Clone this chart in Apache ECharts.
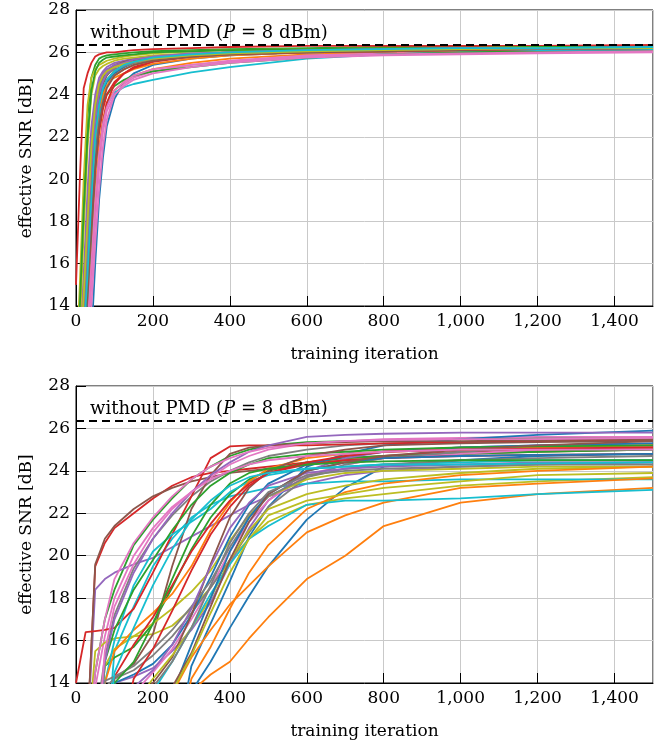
<!DOCTYPE html>
<html><head><meta charset="utf-8">
<script src="https://cdn.jsdelivr.net/npm/echarts@6/dist/echarts.min.js"></script>
<style>html,body{margin:0;padding:0;background:#fff}#c{width:668px;height:745px}</style>
</head><body><div id="c"></div>
<script>
// ---------- data ----------
const iterTop = [0,10,20,30,40,50,60,70,80,100,125,150,200,300,400,600,800,1000,1200,1500];
const runsTop = [
[8,9,10,11,12.5,16,19,21,22.5,23.8,24.6,25.0,25.4,25.7,25.85,26.0,26.05,26.1,26.15,26.2],
[9,10,11,13,16,19.5,21.5,22.8,23.6,24.2,24.6,24.9,25.2,25.5,25.7,25.9,26.0,26.05,26.1,26.15],
[12,14,19,23,24.8,25.4,25.7,25.8,25.85,25.9,25.95,26.0,26.05,26.1,26.15,26.2,26.25,26.25,26.3,26.3],
[15,20,24.3,25.0,25.5,25.8,25.9,25.95,26.0,26.0,26.05,26.1,26.15,26.2,26.25,26.3,26.3,26.3,26.3,26.35],
[10,12,15.5,19.5,22.5,24.0,24.8,25.1,25.3,25.5,25.6,25.7,25.8,25.9,26.0,26.05,26.1,26.15,26.15,26.2],
[9,11,13.5,17.5,21,23.2,24.3,24.8,25.1,25.4,25.55,25.65,25.8,25.9,26.0,26.05,26.1,26.1,26.15,26.2],
[8,9,10.5,12,14,17,19.5,21.5,22.8,24.0,24.5,24.8,25.1,25.4,25.6,25.85,25.95,26.0,26.05,26.1],
[10,11.5,14.5,18.5,21.5,23.5,24.4,24.9,25.1,25.3,25.45,25.55,25.7,25.85,25.95,26.05,26.1,26.1,26.15,26.2],
[11,15,20,23.5,24.8,25.2,25.4,25.5,25.6,25.7,25.8,25.85,25.95,26.05,26.1,26.15,26.2,26.2,26.25,26.25],
[8,9.5,11,13,15.5,18.5,21,22.6,23.5,24.1,24.35,24.5,24.7,25.05,25.3,25.7,25.9,26.0,26.05,26.1],
[9,10.5,12.5,15.5,19,21.8,23.3,24.2,24.7,25.1,25.4,25.55,25.75,25.9,26.0,26.1,26.15,26.2,26.2,26.25],
[9,11,13.5,17,20.5,22.8,24.0,24.4,24.6,24.8,25.0,25.2,25.45,25.7,25.85,26.0,26.05,26.1,26.1,26.15],
[8.5,10,12,14.5,17.5,20.5,22.5,23.5,24.0,24.4,24.7,24.9,25.1,25.3,25.5,25.75,25.9,26.0,26.05,26.1],
[8.5,9.5,11,13,15.5,18.5,21,22.6,23.6,24.5,25.0,25.3,25.6,25.85,25.95,26.05,26.1,26.15,26.2,26.2],
[10,12,15,18.5,21.8,23.8,24.6,25.0,25.2,25.4,25.5,25.6,25.7,25.8,25.9,26.0,26.05,26.1,26.1,26.15],
[9,10.5,13,16.5,20,22.5,23.8,24.5,24.9,25.3,25.5,25.6,25.75,25.9,26.0,26.1,26.1,26.15,26.2,26.2],
[8.5,9.5,11,13,16,19,21.2,22.6,23.4,24.2,24.6,24.9,25.2,25.4,25.55,25.8,25.9,25.95,26.0,26.05],
[9.5,11,14,17.5,21,23,24.2,24.7,24.95,25.2,25.35,25.5,25.65,25.8,25.9,26.0,26.05,26.1,26.15,26.2],
[10,13,17.5,21.5,24,24.9,25.2,25.35,25.45,25.6,25.7,25.75,25.85,25.95,26.0,26.1,26.15,26.15,26.2,26.2],
[9,10,12,14.5,18,21,22.8,23.8,24.4,24.9,25.2,25.4,25.6,25.8,25.9,26.0,26.05,26.1,26.1,26.15],
[8.5,10,12,15,18.5,21.5,23.2,24.1,24.6,25.0,25.3,25.5,25.7,25.85,25.95,26.05,26.1,26.15,26.2,26.25],
[9,10.5,12.5,15.5,19,21.8,23.3,24.0,24.4,24.9,25.2,25.4,25.6,25.8,25.9,26.0,26.05,26.1,26.15,26.2],
[11,14,18.5,22,24.2,25.1,25.5,25.65,25.75,25.8,25.85,25.9,26.0,26.05,26.1,26.15,26.2,26.2,26.25,26.25],
[9,10.5,12.5,15,18,20.5,22.2,23.3,24.0,24.6,25.0,25.25,25.55,25.8,25.9,26.0,26.05,26.1,26.15,26.2],
[9.5,11,13.5,17,20.5,22.8,24.0,24.6,25.0,25.3,25.5,25.65,25.8,25.95,26.0,26.1,26.15,26.2,26.2,26.25],
[9,10,12,14.5,17.5,20.5,22.5,23.6,24.3,24.9,25.2,25.4,25.6,25.8,25.9,26.0,26.05,26.1,26.15,26.2],
[8.5,9.5,10.5,12.5,15,18,20.5,22.2,23.2,24.0,24.4,24.7,25.0,25.3,25.5,25.75,25.85,25.9,25.95,26.0],
[9,10.5,13,16,19.5,22,23.5,24.3,24.7,25.1,25.35,25.5,25.7,25.85,25.95,26.05,26.1,26.15,26.15,26.2],
[9.5,11.5,14.5,18,21.5,23.5,24.5,24.9,25.1,25.3,25.45,25.55,25.7,25.85,25.95,26.05,26.1,26.15,26.2,26.2],
[9,10.5,12.5,15.5,19,22,23.5,24.3,24.7,25.1,25.4,25.55,25.75,25.9,26.0,26.1,26.15,26.2,26.2,26.25]
];
const iterBottom = [0,25,50,75,100,150,200,250,300,350,400,450,500,600,700,800,1000,1200,1500];
const runsBottom = [
[10,10,10,10,10,10,10,10,13.6,15.0,16.6,18.1,19.5,21.7,23.2,24.2,24.5,24.7,24.8],
[10,10,10,10,10,10,10,10,13.6,14.4,15.0,16.1,17.1,18.9,20.0,21.4,22.5,22.9,23.2],
[10,10,14.5,17.0,18.4,20.5,21.7,22.7,23.6,24.2,24.7,25.0,25.2,25.35,25.4,25.45,25.5,25.55,25.6],
[10,10,19.5,20.6,21.3,22.0,22.7,23.3,23.7,23.9,24.0,24.1,24.2,24.4,24.6,24.7,24.9,25.0,25.1],
[10,10,18.4,18.9,19.2,19.6,19.9,20.4,20.9,21.4,21.9,22.4,22.8,23.4,23.8,24.0,24.2,24.3,24.4],
[10,10,19.6,20.8,21.4,22.2,22.8,23.2,23.5,23.7,23.9,24.0,24.1,24.3,24.5,24.6,24.8,24.9,25.0],
[10,10,13.8,16.2,18.0,20.0,21.3,22.3,23.0,23.7,24.3,24.7,25.0,25.3,25.4,25.5,25.55,25.6,25.6],
[10,10,12,15.2,17.2,19.4,20.8,21.9,22.8,23.5,24.0,24.4,24.7,25.0,25.2,25.3,25.35,25.4,25.45],
[10,10,15.5,15.9,16.1,16.2,16.3,16.7,17.5,18.5,19.8,20.8,21.6,22.4,22.7,22.9,23.3,23.5,23.7],
[10,10,10,10,15.5,17.6,19.5,20.8,21.8,22.4,22.8,23.0,23.2,23.4,23.5,23.5,23.6,23.6,23.6],
[10,10,10,10,10,10,10,10,14.8,16.8,18.8,20.9,22.3,24.2,24.8,25.2,25.5,25.7,25.9],
[10,10,10,10,10,10,10,13.5,15.2,16.5,17.7,18.6,19.5,21.1,21.9,22.5,23.2,23.4,23.65],
[10,10,10,14.8,15.2,15.7,16.8,18.5,20.3,21.8,22.9,23.6,24.0,24.4,24.6,24.7,24.8,24.9,25.0],
[14,16.4,16.45,16.5,16.6,17.5,19.2,21.0,22.8,24.6,25.15,25.2,25.2,25.2,25.25,25.3,25.35,25.4,25.4],
[10,10,10,10,14.0,14.3,14.7,15.5,16.5,17.8,19.6,21.3,22.6,24.0,24.6,24.9,25.1,25.2,25.3],
[10,10,10,10,14.2,14.9,16.3,19.5,22.2,23.8,24.8,25.1,25.2,25.3,25.35,25.4,25.4,25.45,25.5],
[10,10,10,10,10,13.5,14.5,15.6,17.0,18.5,20.2,21.6,22.6,23.8,24.3,24.6,24.8,25.0,25.1],
[10,10,10,13.8,14.2,14.6,15.3,16.2,17.3,18.5,19.8,21.1,22.3,23.7,24.3,24.6,24.9,25.1,25.2],
[10,10,10,14.8,15.6,16.2,16.8,17.5,18.3,19.3,20.7,21.9,22.8,23.6,23.9,24.0,24.1,24.2,24.2],
[10,10,10,14.0,16.0,18.6,20.2,21.0,21.6,22.2,23.0,23.5,23.8,24.1,24.2,24.3,24.4,24.5,24.5],
[10,10,10,10,14.0,14.4,14.9,15.8,17.2,19.0,20.9,22.4,23.4,24.3,24.7,24.9,25.1,25.2,25.3],
[10,10,10,14.0,15.5,16.5,17.3,18.2,19.5,21.2,22.5,23.5,24.1,24.6,24.8,24.9,25.0,25.1,25.2],
[10,10,10,15.0,16.5,18.4,19.8,21.2,22.4,23.3,23.9,24.3,24.6,24.8,24.9,25.0,25.1,25.15,25.2],
[10,10,10,10,14.3,15.8,17.1,18.6,20.2,21.5,22.6,23.4,23.9,24.3,24.5,24.6,24.7,24.75,24.8],
[10,10,10,15.0,17.0,19.2,20.8,22.0,23.0,23.8,24.4,24.9,25.2,25.6,25.7,25.75,25.8,25.8,25.8],
[10,10,10,10,10,13.2,14.0,15.2,17.2,19.6,21.8,23.2,24.0,24.7,25.0,25.2,25.3,25.35,25.4],
[10,10,14.5,17.0,18.9,20.6,21.8,22.8,23.6,24.2,24.6,24.9,25.1,25.3,25.4,25.45,25.5,25.5,25.55],
[10,10,10,14.1,14.3,14.8,15.6,16.5,17.6,18.8,20.4,21.8,22.8,23.7,24.1,24.3,24.5,24.6,24.7],
[10,10,10,10,10,13.0,14.2,15.3,16.6,18.0,19.8,21.2,22.2,22.9,23.3,23.6,23.9,24.1,24.2],
[10,10,10,10,10,10,13.6,15.0,16.6,18.2,19.6,20.8,21.4,22.4,22.6,22.6,22.7,22.9,23.1],
[10,10,10,10,10,10,10,13.5,15.8,18.0,20.2,21.8,22.9,24.0,24.4,24.6,24.7,24.75,24.8],
[10,10,10,10,10,10,10,10,14.2,15.7,17.5,19.2,20.5,22.2,23.0,23.4,23.8,24.0,24.2],
[10,10,10,10,14.0,15.0,16.8,18.9,20.9,22.4,23.4,23.9,24.1,24.3,24.4,24.45,24.5,24.5,24.5],
[10,10,10,10,10,14.2,15.6,17.4,19.3,21.0,22.3,23.3,23.9,24.4,24.7,24.9,25.0,25.05,25.1],
[10,10,10,10,10,13.8,14.6,15.8,17.5,19.5,21.3,22.5,23.3,23.9,24.1,24.2,24.3,24.4,24.4],
[10,10,10,10,10,10,10,13.8,15.4,17.6,19.8,21.6,22.9,24.0,24.4,24.7,25.0,25.2,25.4],
[10,10,10,15.5,17.6,19.6,21.1,22.2,23.0,23.6,24.0,24.3,24.5,24.7,24.8,24.9,25.0,25.0,25.0],
[10,10,10,10,10,10,13.8,15.0,16.6,18.6,20.6,22.0,23.0,23.8,24.0,24.1,24.2,24.3,24.3],
[10,10,10,10,10,10,10,13.6,15.3,17.3,19.2,20.8,21.9,22.6,22.9,23.2,23.5,23.8,23.9],
[10,10,10,10,14.5,16.6,18.6,20.3,21.7,22.6,23.3,23.7,23.9,24.1,24.2,24.3,24.3,24.35,24.4]
];
const refSNR = 26.37;
const refLabel = ['without PMD (', 'P', ' = 8 dBm)'];
const xTicks = {min: 0, max: 1500, step: 200};
const yTicks = {min: 14, max: 28, step: 2};
const xTitle = 'training iteration';
const yTitle = 'effective SNR [dB]';

// ---------- chart ----------
const palette = ['#1f77b4','#ff7f0e','#2ca02c','#d62728','#9467bd','#8c564b','#e377c2','#7f7f7f','#bcbd22','#17becf'];
const FONT = 'DejaVu Serif';
const grids = [
  {left: 76, top: 10, width: 577, height: 296},
  {left: 76, top: 386, width: 577, height: 297}
];
function fmt(v){ return String(v).replace(/\B(?=(\d{3})+(?!\d))/g, ','); }
const xAxes = grids.map((g,i)=>({
  type:'value', gridIndex:i, min:xTicks.min, max:xTicks.max, interval:xTicks.step,
  name:xTitle, nameLocation:'middle', nameGap:40,
  nameTextStyle:{fontFamily:FONT, fontSize:17, color:'#000'},
  axisLine:{show:true, onZero:false, lineStyle:{color:'#000', width:1}},
  axisTick:{show:true, inside:true, length:10, lineStyle:{color:'#000', width:1}},
  axisLabel:{fontFamily:FONT, fontSize:17, color:'#000', margin:7, formatter:fmt, showMaxLabel:false},
  splitLine:{show:true, lineStyle:{color:'#c9c9c9', width:1}}
}));
const yAxes = grids.map((g,i)=>({
  type:'value', gridIndex:i, min:yTicks.min, max:yTicks.max, interval:yTicks.step,
  name:yTitle, nameLocation:'middle', nameGap:41, nameRotate:90,
  nameTextStyle:{fontFamily:FONT, fontSize:17, color:'#000'},
  axisLine:{show:true, onZero:false, lineStyle:{color:'#000', width:1}},
  axisTick:{show:true, inside:true, length:10, lineStyle:{color:'#000', width:1}},
  axisLabel:{fontFamily:FONT, fontSize:17, color:'#000', margin:6},
  splitLine:{show:true, lineStyle:{color:'#c9c9c9', width:1}}
}));
const series = [];
[[iterTop, runsTop],[iterBottom, runsBottom]].forEach(([xs, runs], gi)=>{
  runs.forEach((r, k)=>{
    series.push({
      type:'line', xAxisIndex:gi, yAxisIndex:gi, showSymbol:false, symbol:'none',
      clip:true, silent:true,
      lineStyle:{width:1.8, color:palette[k%10]},
      data: xs.map((x,j)=>[x, r[j]]),
      z: 2
    });
  });
  series.push({
    type:'line', xAxisIndex:gi, yAxisIndex:gi, data:[], silent:true,
    markLine:{
      symbol:'none', silent:true, animation:false,
      lineStyle:{color:'#000', type:[8,5], width:1.8},
      label:{show:true, position:'insideStartTop', distance:[14,2],
        formatter:'{a|'+refLabel[0]+'}{b|'+refLabel[1]+'}{a|'+refLabel[2]+'}',
        rich:{a:{fontFamily:FONT, fontSize:18, color:'#000'}, b:{fontFamily:FONT, fontSize:18, fontStyle:'italic', color:'#000'}}},
      data:[{yAxis:refSNR}]
    },
    z: 5
  });
});
const chart = echarts.init(document.getElementById('c'), null, {renderer:'canvas'});
chart.setOption({
  animation:false,
  backgroundColor:'#fff',
  grid: grids.map(g=>Object.assign({show:true, borderColor:'#000', borderWidth:1, backgroundColor:'transparent'}, g)),
  xAxis:xAxes, yAxis:yAxes, series
});
</script></body></html>
